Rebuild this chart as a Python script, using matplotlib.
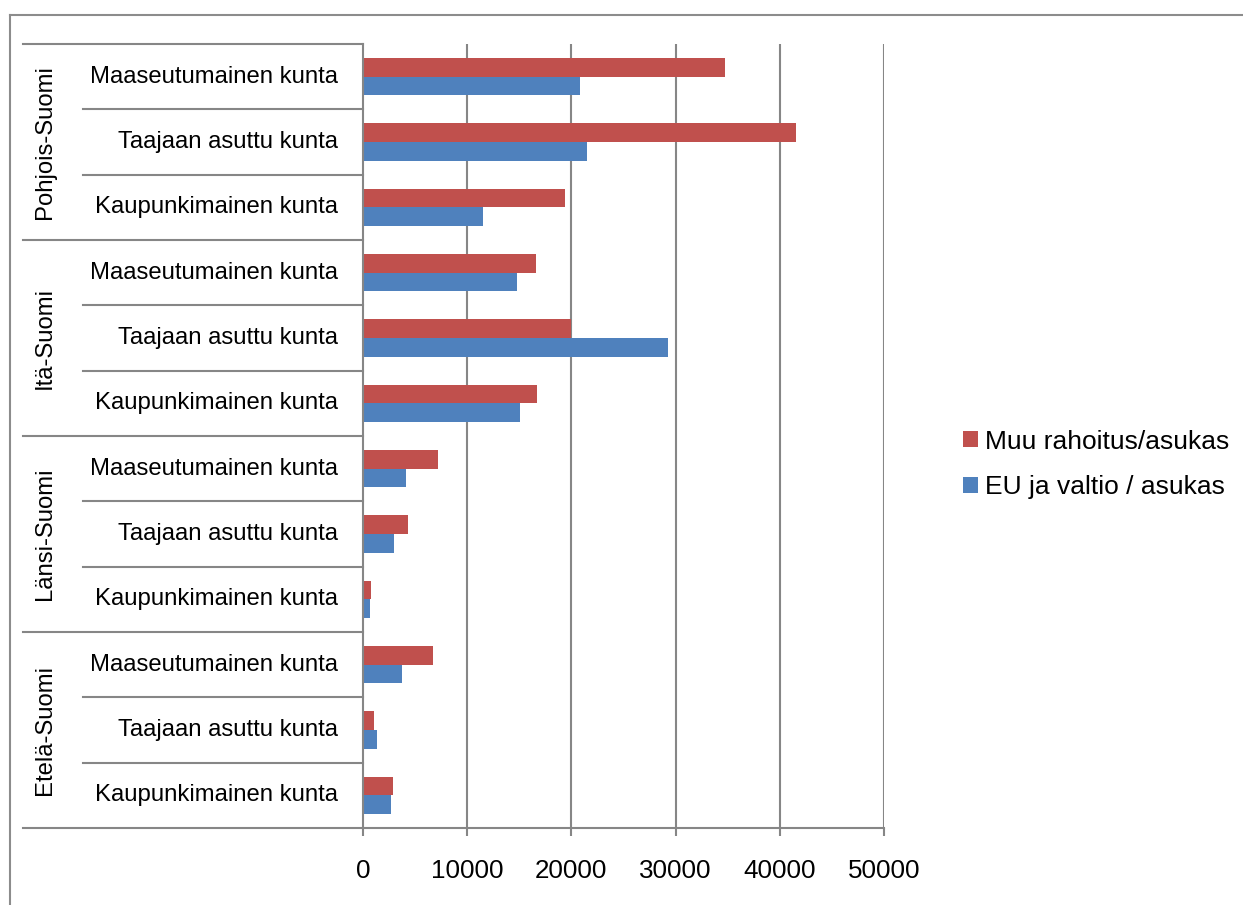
import matplotlib.pyplot as plt
import matplotlib.transforms as mtransforms
from matplotlib.lines import Line2D

plt.rcParams["font.family"] = ["Liberation Sans", "DejaVu Sans"]

regions = ["Pohjois-Suomi", "Itä-Suomi", "Länsi-Suomi", "Etelä-Suomi"]
types = ["Maaseutumainen kunta", "Taajaan asuttu kunta", "Kaupunkimainen kunta"]

# top to bottom, per region: Maaseutumainen, Taajaan asuttu, Kaupunkimainen
muu = [34700, 41550, 19350,
       16600, 19950, 16700,
       7150, 4350, 800,
       6700, 1100, 2850]
eu = [20850, 21450, 11550,
      14800, 29250, 15100,
      4150, 3000, 650,
      3750, 1300, 2650]

series_labels = ["Muu rahoitus/asukas", "EU ja valtio / asukas"]
xticks = [0, 10000, 20000, 30000, 40000, 50000]

RED = "#C0504D"
BLUE = "#4F81BD"
GRID = "#868686"

W, H = 1243, 905
fig = plt.figure(figsize=(W / 100, H / 100), dpi=100)

x0, x1, ytop, ybot = 363, 884, 44, 828
ax = fig.add_axes([x0 / W, 1 - ybot / H, (x1 - x0) / W, (ybot - ytop) / H])

n = len(muu)
pos = list(range(n))
bh = 0.285
ax.barh([p - bh / 2 for p in pos], muu, height=bh, color=RED, label=series_labels[0])
ax.barh([p + bh / 2 for p in pos], eu, height=bh, color=BLUE, label=series_labels[1])

ax.set_ylim(n - 0.5, -0.5)
ax.set_xlim(0, 50000)
ax.set_xticks(xticks)
ax.set_xticklabels([str(t) for t in xticks], fontsize=18.7)
ax.tick_params(axis="x", length=6, width=1.5, color=GRID, pad=16)
ax.set_yticks([])
for t in xticks[1:]:
    ax.axvline(t, color=GRID, lw=1.5, zorder=0)

for side in ["top", "right"]:
    ax.spines[side].set_visible(False)
for side in ["left", "bottom"]:
    ax.spines[side].set_color(GRID)
    ax.spines[side].set_linewidth(1.5)

# category separators and labels on the left
trans = mtransforms.blended_transform_factory(fig.transFigure, ax.transData)
for k in range(n + 1):
    yb = k - 0.5
    xl = 23 / W if k % 3 == 0 else 83 / W
    fig.add_artist(Line2D([xl, x0 / W], [yb, yb], transform=trans, color=GRID, lw=1.5))
for i in range(n):
    fig.text(338 / W, i, types[i % 3], transform=trans, ha="right", va="center", fontsize=17.2)
for r, name in enumerate(regions):
    fig.text(45 / W, r * 3 + 1, name, transform=trans, ha="center", va="center",
             rotation=90, fontsize=17.2)

# outer chart border (partly cropped)
fig.add_artist(Line2D([10 / W, 10 / W], [0, 1 - 15 / H], color="#8c8c8c", lw=1.5))
fig.add_artist(Line2D([10 / W, 1], [1 - 15 / H, 1 - 15 / H], color="#8c8c8c", lw=1.5))

fig.legend(loc="center left", bbox_to_anchor=(963 / W, 1 - 464.5 / H), frameon=False,
           fontsize=19, handlelength=0.55, handleheight=0.55, handletextpad=0.3,
           labelspacing=0.82, borderpad=0, borderaxespad=0)

fig.savefig("out.png", dpi=100)
